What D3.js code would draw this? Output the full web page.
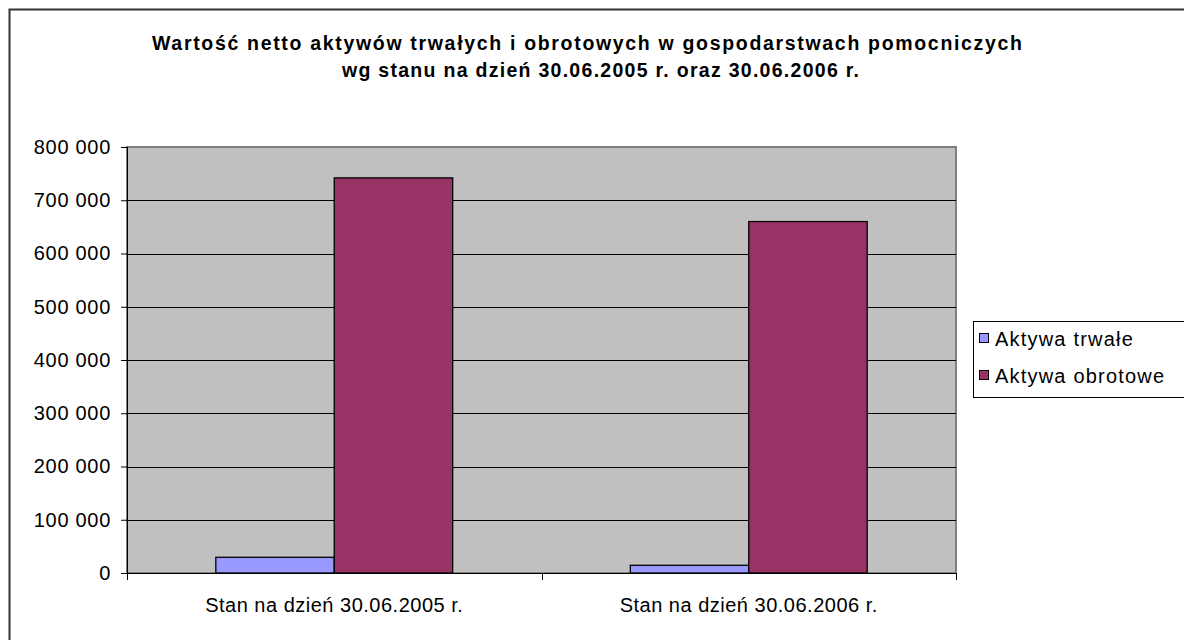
<!DOCTYPE html>
<html>
<head>
<meta charset="utf-8">
<script src="https://cdn.jsdelivr.net/npm/d3@7"></script>
<style>
    body { margin: 0; background: #fff; }
    svg { display: block; font-family: "Liberation Sans", Arial, sans-serif; }
</style>
</head>
<body>
<div id="chart"></div>
<script>
var categories = ["Stan na dzień 30.06.2005 r.", "Stan na dzień 30.06.2006 r."];
var seriesNames = ["Aktywa trwałe", "Aktywa obrotowe"];
var aktywaTrwale = [29500, 14500];
var aktywaObrotowe = [742000, 660000];
var yTicks = [0, 100000, 200000, 300000, 400000, 500000, 600000, 700000, 800000];
var titleLines = [
    "Wartość netto aktywów trwałych i obrotowych w gospodarstwach pomocniczych",
    "wg stanu na dzień 30.06.2005 r. oraz 30.06.2006 r."
];

var colors = {
    "Aktywa trwałe": "#9999FF",
    "Aktywa obrotowe": "#993366"
};

var width = 1184, height = 640;
var margin = { top: 147, right: 228, bottom: 67, left: 127 };
var plotW = width - margin.left - margin.right,
    plotH = height - margin.top - margin.bottom;

var data = categories.map(function (c, i) {
    return { cat: c, values: [aktywaTrwale[i], aktywaObrotowe[i]] };
});

var svg = d3.select("#chart").append("svg")
    .attr("width", width)
    .attr("height", height);

// outer chart frame (runs off right/bottom like the original)
svg.append("rect")
    .attr("x", 9.5)
    .attr("y", 9.5)
    .attr("width", width + 20)
    .attr("height", height + 20)
    .attr("fill", "none")
    .attr("stroke", "#333")
    .attr("stroke-width", 2);

// title
var titleX = [152, 342], titleLen = [870, 517], titleY = [50, 77];
svg.selectAll(".title")
    .data(titleLines)
    .enter()
    .append("text")
    .attr("class", "title")
    .attr("x", function (d, i) { return titleX[i]; })
    .attr("y", function (d, i) { return titleY[i]; })
    .attr("textLength", function (d, i) { return titleLen[i]; })
    .attr("lengthAdjust", "spacing")
    .attr("font-size", 19.5)
    .attr("font-weight", "bold")
    .attr("fill", "#000")
    .text(function (d) { return d; });

var wrapper = svg.append("g")
    .attr("transform", "translate(" + margin.left + "," + margin.top + ")");

var x0 = d3.scaleBand()
    .domain(categories)
    .range([0, plotW])
    .padding(0);

var x1 = d3.scaleBand()
    .domain(seriesNames)
    .range([0, x0.bandwidth()])
    .paddingInner(0)
    .paddingOuter(0.75);

var y = d3.scaleLinear()
    .domain([0, 800000])
    .range([plotH, 0]);

var fmt = d3.formatLocale({ decimal: ",", thousands: " ", grouping: [3], currency: ["", ""] }).format(",d");

// plot background
wrapper.append("rect")
    .attr("width", plotW)
    .attr("height", plotH)
    .attr("fill", "#C0C0C0")
    .attr("stroke", "#808080")
    .attr("stroke-width", 2);

// gridlines
wrapper.append("g")
    .selectAll("line")
    .data(yTicks.filter(function (t) { return t > 0 && t < 800000; }))
    .enter()
    .append("line")
    .attr("x1", 0)
    .attr("x2", plotW)
    .attr("y1", function (d) { return Math.round(y(d)) + 0.5; })
    .attr("y2", function (d) { return Math.round(y(d)) + 0.5; })
    .attr("stroke", "#000")
    .attr("stroke-width", 1);

// bars
var groups = wrapper.selectAll(".cat")
    .data(data)
    .enter()
    .append("g")
    .attr("class", "cat")
    .attr("transform", function (d) { return "translate(" + x0(d.cat) + ",0)"; });

groups.selectAll("rect")
    .data(function (d) {
        return d.values.map(function (v, i) { return { name: seriesNames[i], value: v }; });
    })
    .enter()
    .append("rect")
    .attr("x", function (d) { return x1(d.name); })
    .attr("y", function (d) { return y(d.value); })
    .attr("width", x1.bandwidth())
    .attr("height", function (d) { return plotH - y(d.value); })
    .attr("fill", function (d) { return colors[d.name]; })
    .attr("stroke", "#000")
    .attr("stroke-width", 1.3);

// y axis
var yAxis = d3.axisLeft(y)
    .tickValues(yTicks)
    .tickSize(6)
    .tickPadding(10)
    .tickFormat(fmt);

var gY = wrapper.append("g")
    .attr("class", "y-axis")
    .call(yAxis);
gY.select(".domain").attr("stroke", "#000").attr("d", "M0.5," + plotH + "V0");
gY.selectAll(".tick line").attr("stroke", "#000");
gY.selectAll(".tick text")
    .attr("font-size", 20)
    .attr("letter-spacing", 0.7)
    .attr("fill", "#000");

// x axis: ticks sit on category boundaries
var xAxisLine = wrapper.append("g")
    .attr("class", "x-axis")
    .attr("transform", "translate(0," + plotH + ")");
xAxisLine.append("line")
    .attr("x1", 0)
    .attr("x2", plotW)
    .attr("y1", 0.5)
    .attr("y2", 0.5)
    .attr("stroke", "#000");
xAxisLine.selectAll(".xtick")
    .data([0].concat(categories.map(function (c) { return x0(c) + x0.bandwidth(); })))
    .enter()
    .append("line")
    .attr("class", "xtick")
    .attr("x1", function (d) { return Math.round(d) + 0.5; })
    .attr("x2", function (d) { return Math.round(d) + 0.5; })
    .attr("y1", 0)
    .attr("y2", 7)
    .attr("stroke", "#000");
xAxisLine.selectAll(".xlabel")
    .data(categories)
    .enter()
    .append("text")
    .attr("class", "xlabel")
    .attr("x", function (d) { return x0(d) + x0.bandwidth() / 2; })
    .attr("y", 39)
    .attr("text-anchor", "middle")
    .attr("font-size", 20)
    .attr("letter-spacing", 0.5)
    .attr("fill", "#000")
    .text(function (d) { return d; });

// legend
var legend = svg.append("g")
    .attr("transform", "translate(973,321)");
legend.append("rect")
    .attr("x", 0.5)
    .attr("y", 0.5)
    .attr("width", 260)
    .attr("height", 76)
    .attr("fill", "#fff")
    .attr("stroke", "#000");
var item = legend.selectAll(".item")
    .data(seriesNames)
    .enter()
    .append("g")
    .attr("class", "item")
    .attr("transform", function (d, i) { return "translate(0," + (i * 37) + ")"; });
item.append("rect")
    .attr("x", 6.5)
    .attr("y", 12.5)
    .attr("width", 9)
    .attr("height", 9)
    .attr("fill", function (d) { return colors[d]; })
    .attr("stroke", "#000");
item.append("text")
    .attr("x", 22)
    .attr("y", 25)
    .attr("font-size", 20)
    .attr("letter-spacing", 1.2)
    .attr("fill", "#000")
    .text(function (d) { return d; });
</script>
</body>
</html>
